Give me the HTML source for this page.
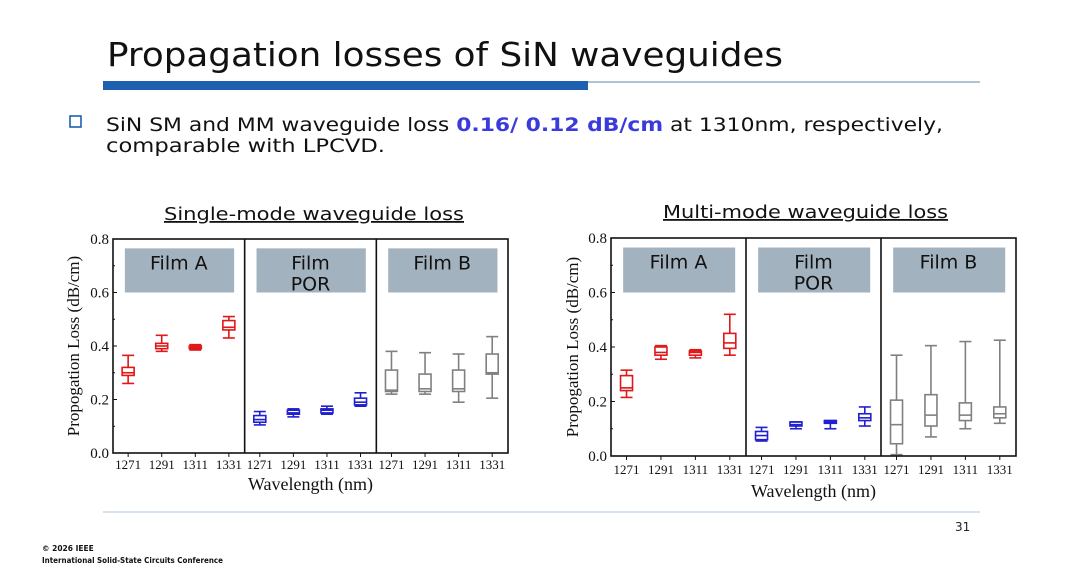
<!DOCTYPE html>
<html><head><meta charset="utf-8"><style>
html,body{margin:0;padding:0;background:#fff;}
svg{display:block;}
</style></head><body>
<svg id="slide" width="1080" height="568" viewBox="0 0 1080 568" xmlns="http://www.w3.org/2000/svg" font-family="DejaVu Sans, Liberation Sans, sans-serif">
<text x="107" y="66" font-size="33" textLength="676" lengthAdjust="spacingAndGlyphs" fill="#111">Propagation losses of SiN waveguides</text>
<rect x="103" y="81" width="485" height="9" fill="#1f5fb0"/>
<line x1="588" y1="82" x2="980" y2="82" stroke="#7fa0b8" stroke-width="1.2"/>
<rect x="70" y="116" width="11" height="11" fill="none" stroke="#1f5fb0" stroke-width="1.6"/>
<text x="106" y="131" font-size="19" textLength="837" lengthAdjust="spacingAndGlyphs" fill="#111">SiN SM and MM waveguide loss <tspan fill="#3b3bdc" font-weight="bold">0.16/ 0.12 dB/cm</tspan> at 1310nm, respectively,</text>
<text x="106" y="152" font-size="19" textLength="279" lengthAdjust="spacingAndGlyphs" fill="#111">comparable with LPCVD.</text>
<text x="164" y="220" font-size="18" textLength="300" lengthAdjust="spacingAndGlyphs" fill="#111" text-decoration="underline">Single-mode waveguide loss</text>
<text x="663" y="218" font-size="18" textLength="285" lengthAdjust="spacingAndGlyphs" fill="#111" text-decoration="underline">Multi-mode waveguide loss</text>
<g id="c1"></g>
<g id="c2"></g>
<line x1="103" y1="512" x2="980" y2="512" stroke="#a8c4e0" stroke-width="1"/>
<text x="955" y="531" font-size="12" fill="#222">31</text>
<text x="42" y="551" font-size="7.5" font-weight="bold" fill="#111">© 2026 IEEE</text>
<text x="42" y="563" font-size="7.5" font-weight="bold" textLength="181" lengthAdjust="spacingAndGlyphs" fill="#111">International Solid-State Circuits Conference</text>
</svg>
<script>
const categories = ["1271","1291","1311","1331"];
const films = ["Film A","Film POR","Film B"];
const yTicks = [0.0,0.2,0.4,0.6,0.8];
const yTickLabels = ["0.0","0.2","0.4","0.6","0.8"];
// [min, q1, median, q3, max]
const smFilmA = [[0.26,0.29,0.30,0.32,0.365],[0.38,0.39,0.40,0.41,0.44],[0.385,0.39,0.395,0.40,0.405],[0.43,0.46,0.47,0.495,0.51]];
const smFilmPOR = [[0.105,0.115,0.125,0.14,0.155],[0.135,0.145,0.15,0.16,0.165],[0.145,0.15,0.16,0.165,0.175],[0.175,0.18,0.19,0.205,0.225]];
const smFilmB = [[0.22,0.23,0.235,0.31,0.38],[0.22,0.23,0.24,0.295,0.375],[0.19,0.23,0.24,0.31,0.37],[0.205,0.295,0.30,0.37,0.435]];
const mmFilmA = [[0.215,0.24,0.25,0.295,0.315],[0.355,0.37,0.38,0.40,0.405],[0.36,0.37,0.38,0.385,0.39],[0.37,0.395,0.415,0.45,0.52]];
const mmFilmPOR = [[0.055,0.06,0.075,0.09,0.105],[0.10,0.11,0.115,0.125,0.125],[0.10,0.12,0.125,0.13,0.13],[0.11,0.13,0.14,0.155,0.18]];
const mmFilmB = [[0.005,0.045,0.115,0.205,0.37],[0.07,0.11,0.15,0.225,0.405],[0.10,0.13,0.15,0.195,0.42],[0.12,0.14,0.155,0.18,0.425]];
const colors = ["#e01818","#2020d0","#808080"];
const NS="http://www.w3.org/2000/svg";
function mk(p,tag,a,txt){const e=document.createElementNS(NS,tag);for(const k in a)e.setAttribute(k,a[k]);if(txt!==undefined)e.textContent=txt;p.appendChild(e);return e;}
function drawChart(g,L,R,T,B,labY,titleY,ytX,series){
  const y=v=>B-(v/0.8)*(B-T);
  const pw=(R-L)/3;
  const x=(p,i)=>L+p*pw+pw*(0.115+i*0.255);
  series.forEach((s,p)=>{
    const fb=mk(g,"rect",{x:L+p*pw+pw*0.09,y:y(0.765),width:pw*0.83,height:y(0.6)-y(0.765),fill:"#a3b2bf"});
    
    
    const cx=L+p*pw+pw*0.5;
    if(p===1){
      const t1=mk(g,"text",{x:cx,y:y(0.765)+21,"font-size":19,"text-anchor":"middle",fill:"#111"},"Film");
      
      
      const t2=mk(g,"text",{x:cx,y:y(0.765)+42,"font-size":19,"text-anchor":"middle",fill:"#111"},"POR");
      
      
    } else {
      const t=mk(g,"text",{x:cx,y:y(0.765)+21,"font-size":19,"text-anchor":"middle",fill:"#111"},films[p]);
      
      
    }
    s.forEach((d,i)=>{
      const cx2=x(p,i),w=12,c=colors[p];
      const bg=mk(g,"g",{stroke:c,"stroke-width":1.6,fill:"none"});
      
      
      mk(bg,"line",{x1:cx2,x2:cx2,y1:y(d[0]),y2:y(d[1])});
      mk(bg,"line",{x1:cx2,x2:cx2,y1:y(d[3]),y2:y(d[4])});
      mk(bg,"line",{x1:cx2-w/2,x2:cx2+w/2,y1:y(d[0]),y2:y(d[0])});
      mk(bg,"line",{x1:cx2-w/2,x2:cx2+w/2,y1:y(d[4]),y2:y(d[4])});
      mk(bg,"rect",{x:cx2-w/2,y:y(d[3]),width:w,height:Math.max(1,y(d[1])-y(d[3]))});
      mk(bg,"line",{x1:cx2-w/2,x2:cx2+w/2,y1:y(d[2]),y2:y(d[2])});
      const tl=mk(g,"text",{x:cx2,y:labY,"font-size":13,"text-anchor":"middle","font-family":"Liberation Serif, serif",fill:"#111"},categories[i]);
      
      
      const tk=mk(g,"line",{x1:cx2,x2:cx2,y1:B,y2:B+4,stroke:"#111","stroke-width":1});
      
      
    });
  });
  const fr=mk(g,"rect",{x:L,y:T,width:R-L,height:B-T,fill:"none",stroke:"#111","stroke-width":1.6});
  
  
  for(let p=1;p<3;p++){
    const dv=mk(g,"line",{x1:L+p*pw,x2:L+p*pw,y1:T,y2:B,stroke:"#111","stroke-width":1.6});
    
    
  }
  yTicks.forEach((v,i)=>{
    const t=mk(g,"text",{x:L-4,y:y(v)+5,"font-size":15,"text-anchor":"end","font-family":"Liberation Serif, serif",fill:"#111"},yTickLabels[i]);
    
    
    mk(g,"line",{x1:L,x2:L+4,y1:y(v),y2:y(v),stroke:"#111"});
    if(i<4) mk(g,"line",{x1:L,x2:L+2,y1:y(v+0.1),y2:y(v+0.1),stroke:"#111"});
  });
  const yt=mk(g,"text",{x:0,y:0,"font-size":17,"text-anchor":"middle","font-family":"Liberation Serif, serif",fill:"#111",transform:`translate(${ytX},${(T+B)/2}) rotate(-90)`},"Propogation Loss (dB/cm)");
  
  
  const xt=mk(g,"text",{x:(L+R)/2,y:titleY,"font-size":18,"text-anchor":"middle","font-family":"Liberation Serif, serif",fill:"#111"},"Wavelength (nm)");
  
  
}
drawChart(document.getElementById("c1"),113,508,239,453,469,490,79,[smFilmA,smFilmPOR,smFilmB]);
drawChart(document.getElementById("c2"),611,1016,238,456,474,497,578,[mmFilmA,mmFilmPOR,mmFilmB]);
</script>
</body></html>
